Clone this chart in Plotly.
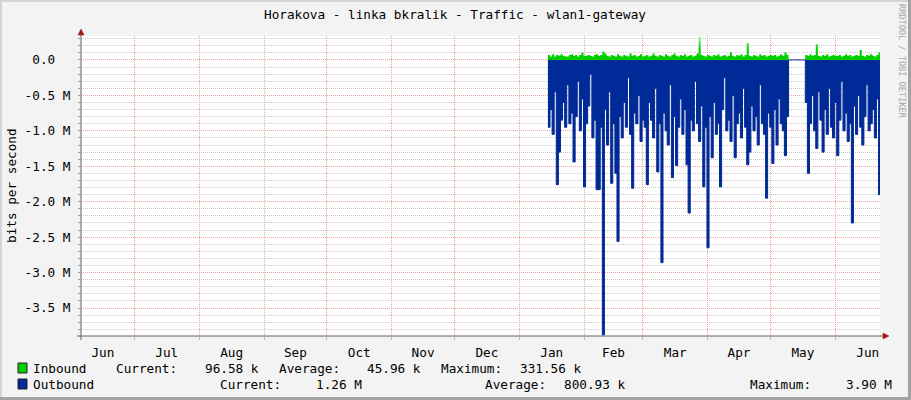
import pandas as pd
import plotly.graph_objects as go

TITLE = "Horakova - linka bkralik - Traffic - wlan1-gateway"
Y_TITLE = "bits per second"
WATERMARK = "RRDTOOL / TOBI OETIKER"

# daily samples, first sample 2015-01-14 16:00
START = "2015-01-14 16:00"

# Inbound traffic, Mbit/s (plotted upward)
inbound_m = [
    # Jan 14-31
    0.07, 0.05, 0.08, 0.05, 0.07, 0.06, 0.08, 0.06, 0.05, 0.05, 0.07, 0.08, 0.06, 0.07, 0.05, 0.07, 0.10, 0.06,
    # Feb
    0.06, 0.07, 0.06, 0.05, 0.07, 0.08, 0.06, 0.07, 0.12, 0.09, 0.06, 0.05, 0.07, 0.06, 0.05, 0.08,
    0.06, 0.05, 0.07, 0.06, 0.05, 0.09, 0.06, 0.07, 0.05, 0.06, 0.08, 0.05,
    # Mar
    0.06, 0.07, 0.05, 0.06, 0.09, 0.06, 0.05, 0.07, 0.06, 0.05, 0.08, 0.06, 0.05, 0.07, 0.09, 0.06,
    0.05, 0.07, 0.06, 0.08, 0.05, 0.06, 0.07, 0.05, 0.06, 0.09, 0.33, 0.07, 0.06, 0.05, 0.07,
    # Apr
    0.06, 0.05, 0.07, 0.06, 0.08, 0.05, 0.06, 0.07, 0.05, 0.06, 0.11, 0.06, 0.05, 0.07, 0.06,
    0.08, 0.05, 0.07, 0.24, 0.06, 0.05, 0.07, 0.06, 0.05, 0.08, 0.06, 0.07, 0.05, 0.06, 0.07,
    # May
    0.06, 0.07, 0.05, 0.06, 0.08, 0.06, 0.11, 0.07, 0.0, 0.0, 0.0, 0.0, 0.0, 0.0, 0.0, 0.0,
    0.07, 0.06, 0.08, 0.06, 0.07, 0.22, 0.06, 0.05, 0.07, 0.06, 0.08, 0.05, 0.06, 0.07, 0.06,
    # Jun 1-22
    0.06, 0.07, 0.05, 0.06, 0.08, 0.06, 0.07, 0.05, 0.06, 0.07, 0.06, 0.14, 0.06, 0.05, 0.07,
    0.06, 0.08, 0.06, 0.05, 0.07, 0.11, 0.097,
]

# Outbound traffic, Mbit/s (plotted downward)
outbound_m = [
    # Jan 14-31
    0.95, 0.70, 1.05, 0.45, 1.76, 1.30, 0.85, 0.60, 0.95, 0.35, 0.90, 0.75, 1.44, 0.80, 0.30, 1.00, 0.55, 1.79,
    # Feb
    0.90, 0.65, 0.20, 1.10, 0.85, 1.83, 1.83, 0.95, 3.88, 0.70, 1.20, 0.45, 1.74, 0.90, 1.60, 2.56,
    0.80, 1.10, 0.60, 0.95, 0.25, 1.05, 1.81, 0.75, 0.90, 0.50, 1.15, 0.85,
    # Mar
    0.95, 1.76, 0.60, 0.85, 1.10, 0.40, 1.58, 0.90, 2.86, 0.75, 1.00, 1.20, 0.35, 1.66, 0.80, 1.49,
    0.95, 0.55, 1.05, 0.70, 1.48, 2.16, 0.85, 1.00, 0.30, 0.90, 1.15, 0.65, 1.79, 0.95, 2.65,
    # Apr
    0.80, 1.38, 0.60, 1.05, 0.90, 1.79, 0.70, 0.25, 1.00, 0.85, 1.15, 0.50, 1.38, 0.90, 0.75,
    1.10, 0.40, 0.95, 1.48, 1.30, 0.65, 1.00, 0.80, 1.20, 0.35, 0.90, 1.05, 1.95, 0.75, 0.95,
    # May
    1.46, 0.70, 1.20, 0.55, 0.90, 1.00, 1.35, 0.80, 0.0, 0.0, 0.0, 0.0, 0.0, 0.0, 0.0, 0.0,
    0.60, 1.60, 0.90, 0.50, 1.00, 1.25, 0.45, 0.85, 1.30, 0.70, 1.05, 0.40, 0.95, 1.10, 0.60,
    # Jun 1-22
    1.35, 0.85, 0.30, 1.00, 0.75, 1.15, 0.90, 2.30, 0.65, 1.05, 0.50, 0.95, 1.20, 0.80, 0.35,
    1.00, 0.90, 0.70, 1.10, 0.55, 1.90, 1.26,
]

ytick_vals_m = [0.0, -0.5, -1.0, -1.5, -2.0, -2.5, -3.0, -3.5]
ytick_text = ["0.0\u00a0\u00a0", "-0.5 M", "-1.0 M", "-1.5 M", "-2.0 M", "-2.5 M", "-3.0 M", "-3.5 M"]

X_RANGE = ["2014-06-05 12:45", "2015-06-22 08:40"]
Y_RANGE_M = [-3.895, 0.338]

legend_names = ["Inbound", "Outbound"]
legend_colors = ["#00CF00", "#002A97"]
inbound_stats = ["Current:", "96.58 k", "Average:", "45.96 k", "Maximum:", "331.56 k"]
outbound_stats = ["Current:", "1.26 M", "Average:", "800.93 k", "Maximum:", "3.90 M"]

# ---------------------------------------------------------------- layout
W, H = 911, 400
L, R, T, B = 81, 880, 36, 336
PW, PH = R - L, B - T
MONO = "DejaVu Sans Mono"


def px(x):
    return (x - L) / PW


def py(y):
    return (B - y) / PH


dates = pd.date_range(START, periods=len(outbound_m), freq="D")

fig = go.Figure()
fig.add_trace(go.Scatter(
    x=dates, y=[v * 1e6 for v in inbound_m], mode="lines", line_shape="hv",
    line=dict(color="#00CF00", width=0), fill="tozeroy",
    fillgradient=dict(type="vertical", start=0, stop=0.34e6,
                      colorscale=[[0, "#00CF00"], [0.45, "#00D000"], [1, "#B8F2B8"]]),
    hoverinfo="skip", showlegend=False,
))
fig.add_trace(go.Scatter(
    x=dates, y=[-v * 1e6 for v in outbound_m], mode="lines", line_shape="hv",
    line=dict(color="#002A97", width=1), fill="tozeroy", fillcolor="#002A97",
    hoverinfo="skip", showlegend=False,
))

grid_major = "#F2A0A0"
grid_minor = "#C8C8C8"

fig.update_layout(
    width=W, height=H, autosize=False,
    margin=dict(l=L, r=W - R, t=T, b=H - B, pad=0),
    paper_bgcolor="#F3F3F3", plot_bgcolor="#FFFFFF",
    font=dict(family=MONO, size=12.7, color="#000000"),
    showlegend=False,
    xaxis=dict(
        type="date", range=X_RANGE, dtick="M1", tick0="2014-07-01",
        ticklabelmode="period", tickformat="%b",
        showgrid=True, gridcolor=grid_major, griddash="1px,1px", gridwidth=1,
        ticks="outside", ticklen=3, tickcolor=grid_major, ticklabelstandoff=2,
        showline=False, zeroline=False, fixedrange=True,
        tickfont=dict(family=MONO, size=12.7, color="#000000"),
    ),
    yaxis=dict(
        range=[v * 1e6 for v in Y_RANGE_M],
        tickvals=[v * 1e6 for v in ytick_vals_m], ticktext=ytick_text,
        showgrid=True, gridcolor=grid_major, griddash="1px,1px", gridwidth=1,
        minor=dict(dtick=0.1e6, tick0=0, showgrid=True, gridcolor=grid_minor,
                   griddash="1px,1px", ticks="outside", ticklen=2, tickcolor="#999999"),
        ticks="outside", ticklen=2, tickcolor="#999999", ticklabelstandoff=5,
        showline=False, zeroline=False, fixedrange=True,
        tickfont=dict(family=MONO, size=12.7, color="#000000"),
    ),
)

shapes = []
# frame of the image
shapes.append(dict(type="rect", xref="paper", yref="paper", x0=px(0), x1=px(2), y0=py(400), y1=py(0),
                   fillcolor="#D4D4D4", line=dict(width=0), layer="above"))
shapes.append(dict(type="rect", xref="paper", yref="paper", x0=px(0), x1=px(911), y0=py(2), y1=py(0),
                   fillcolor="#D4D4D4", line=dict(width=0), layer="above"))
shapes.append(dict(type="rect", xref="paper", yref="paper", x0=px(908), x1=px(911), y0=py(400), y1=py(0),
                   fillcolor="#A2A2A2", line=dict(width=0), layer="above"))
shapes.append(dict(type="rect", xref="paper", yref="paper", x0=px(0), x1=px(911), y0=py(400), y1=py(397),
                   fillcolor="#A2A2A2", line=dict(width=0), layer="above"))
# axes with arrows
shapes.append(dict(type="line", xref="paper", yref="paper", x0=px(81), x1=px(81), y0=py(340), y1=py(33),
                   line=dict(color="#606060", width=1), layer="above"))
shapes.append(dict(type="line", xref="paper", yref="paper", x0=px(77), x1=px(884), y0=py(336), y1=py(336),
                   line=dict(color="#606060", width=1), layer="above"))
shapes.append(dict(type="path", xref="paper", yref="paper",
                   path=f"M {px(78)} {py(35)} L {px(84)} {py(35)} L {px(81)} {py(29)} Z",
                   fillcolor="#A01818", line=dict(color="#A01818", width=0.5), layer="above"))
shapes.append(dict(type="path", xref="paper", yref="paper",
                   path=f"M {px(883)} {py(333)} L {px(883)} {py(339)} L {px(889)} {py(336)} Z",
                   fillcolor="#A01818", line=dict(color="#A01818", width=0.5), layer="above"))

annotations = []
annotations.append(dict(text=TITLE, xref="paper", yref="paper", x=px(455), y=py(14),
                        xanchor="center", yanchor="middle", showarrow=False,
                        font=dict(family=MONO, size=12.7, color="#000000")))
annotations.append(dict(text=Y_TITLE, xref="paper", yref="paper", x=px(11), y=py(186),
                        xanchor="center", yanchor="middle", showarrow=False, textangle=-90,
                        font=dict(family=MONO, size=12.7, color="#000000")))
annotations.append(dict(text=WATERMARK, xref="paper", yref="paper", x=px(902), y=py(61),
                        xanchor="center", yanchor="middle", showarrow=False, textangle=90,
                        font=dict(family=MONO, size=8.6, color="#A8A8A8")))

row_y = [368, 384]
row_x = [
    [116, 205, 279, 367, 441, 520],
    [220, 316, 485, 564, 750, 846],
]
for i, (name, color, stats) in enumerate(zip(legend_names, legend_colors, [inbound_stats, outbound_stats])):
    yc = row_y[i]
    shapes.append(dict(type="rect", xref="paper", yref="paper", x0=px(18), x1=px(27),
                       y0=py(yc + 5), y1=py(yc - 5), fillcolor=color,
                       line=dict(color="#202020", width=1), layer="above"))
    annotations.append(dict(text=name, xref="paper", yref="paper", x=px(31), y=py(yc),
                            xanchor="left", yanchor="middle", showarrow=False,
                            font=dict(family=MONO, size=12.7, color="#000000")))
    for xs, s in zip(row_x[i], stats):
        annotations.append(dict(text=s, xref="paper", yref="paper", x=px(xs - 2), y=py(yc),
                                xanchor="left", yanchor="middle", showarrow=False,
                                font=dict(family=MONO, size=12.7, color="#000000")))

fig.update_layout(shapes=shapes, annotations=annotations)

fig.write_html("out.html", config={"displayModeBar": False, "staticPlot": True},
               post_script="document.body.style.margin='0';document.body.style.padding='0';"
                           "document.body.style.overflow='hidden';")
